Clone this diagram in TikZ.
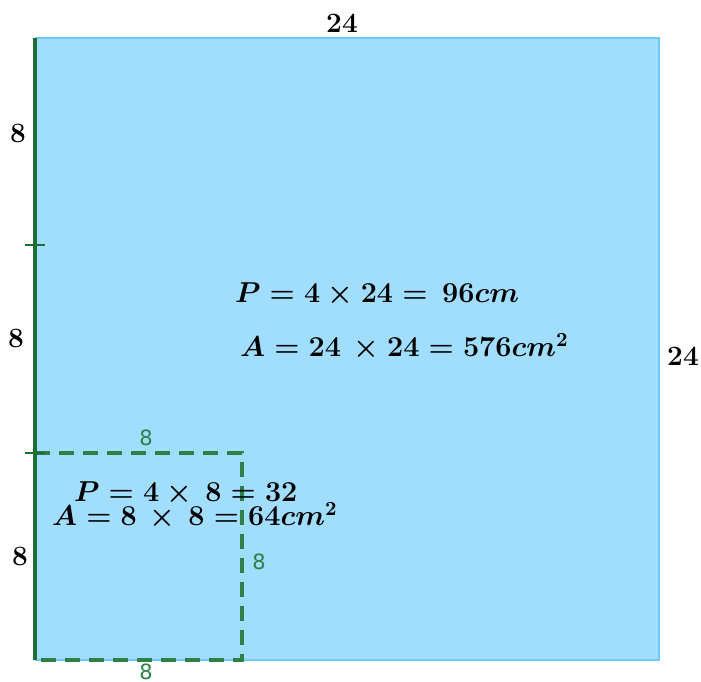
\documentclass[tikz,border=0pt]{standalone}
\usepackage{amsmath,amssymb}
\usepackage{fontspec}
\newfontfamily\labelsans{DejaVu Sans}
\usetikzlibrary{calc}
\definecolor{sqfill}{RGB}{161,221,253}
\definecolor{sqedge}{RGB}{112,200,250}
\definecolor{sidegreen}{RGB}{28,112,52}
\definecolor{dashgreen}{RGB}{46,128,72}

\begin{document}
\begin{tikzpicture}[x=0.5pt,y=-0.5pt,
    side/.style={font=\fontsize{14}{16}\selectfont\bfseries},
    eq/.style={font=\fontsize{13.8}{16}\selectfont\boldmath, anchor=west},
    small/.style={font=\fontsize{10.5}{12}\selectfont\labelsans, text=dashgreen}]
        \useasboundingbox (0,0) rectangle (701,681);
        % corners
        \coordinate (bl) at (35,660); \coordinate (br) at (659,660);
        \coordinate (tr) at (659,38); \coordinate (tl) at (35,38);
        \coordinate (m1) at (35,245); \coordinate (m2) at (35,453);
        \coordinate (sq) at (242,453); \coordinate (sb) at (242,660);
        \fill[sqfill] (bl) rectangle (tr);
        \draw[sqedge, line width=1.3pt] (bl) -- (br) -- (tr) -- (tl);
        \draw[dashgreen, line width=1.6pt, dash pattern=on 7.5pt off 4.5pt] (m2) -- (sq) -- (sb) -- (bl);
        \draw[sidegreen, line width=1.7pt] (tl) -- (bl);
        \foreach \t in {m1,m2}{\draw[sidegreen, line width=1.1pt] ($(\t)+(-10,0)$) -- ($(\t)+(10,0)$);}
        % side lengths
        \node[side] (top) at (342,23) {24};
        \node[side] (right) at (683,356) {24};
        \node[side] (l1) at (18,133) {8};
        \node[side] (l2) at (16,338) {8};
        \node[side] (l3) at (20,556) {8};
        \node[small] (st) at (146,438) {8};
        \node[small] (sr) at (259,562) {8};
        \node[small] (sbot) at (146,672) {8};
        % formulas
        \node[eq] (pbig) at (228,295) {$P=4\times24=\,96cm$};
        \node[eq] (abig) at (233,347) {$A=24\,\times24=576cm^2$};
        \node[eq] (psm) at (67,494) {$P=4\times\,8=32$};
        \node[eq] (asm) at (45,516) {$A=8\,\times\,8=64cm^2$};
      \end{tikzpicture}
\end{document}
